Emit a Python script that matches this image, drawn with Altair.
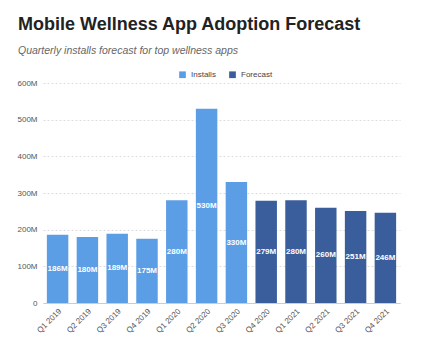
import altair as alt
import pandas as pd

quarters = ["Q1 2019", "Q2 2019", "Q3 2019", "Q4 2019", "Q1 2020", "Q2 2020",
            "Q3 2020", "Q4 2020", "Q1 2021", "Q2 2021", "Q3 2021", "Q4 2021"]
values = [186, 180, 189, 175, 280, 530, 330, 279, 280, 260, 251, 246]
series = ["Installs"] * 7 + ["Forecast"] * 5

df = pd.DataFrame({"quarter": quarters, "value": values, "series": series})
df["label"] = df["value"].astype(str) + "M"
df["mid"] = df["value"] / 2

FONT = "Liberation Sans"

x_axis = alt.Axis(labelAngle=-45, labelFontSize=8, labelColor="#555555",
                  domainColor="#cccccc", ticks=False, labelPadding=4,
                  labelFont=FONT)
x_scale = alt.Scale(paddingInner=0.28, paddingOuter=0.13)
y_axis = alt.Axis(values=[0, 100, 200, 300, 400, 500, 600],
                  labelExpr="datum.value == 0 ? '0' : datum.value + 'M'",
                  labelFontSize=8, labelColor="#555555", labelFont=FONT,
                  labelOverlap=False, tickCount=7,
                  domain=False, ticks=False, labelPadding=6,
                  gridColor="#dddddd", gridDash=[2, 2])
y_scale = alt.Scale(domain=[0, 600])

bars = alt.Chart(df).mark_bar().encode(
    x=alt.X("quarter:N", sort=quarters, title=None, scale=x_scale, axis=x_axis),
    y=alt.Y("value:Q", title=None, scale=y_scale, axis=y_axis),
    color=alt.Color("series:N",
                    scale=alt.Scale(domain=["Installs", "Forecast"],
                                    range=["#5b9ee6", "#3a5e9c"]),
                    legend=alt.Legend(title=None, orient="none", direction="horizontal",
                                      legendX=135, legendY=-13, symbolType="square",
                                      symbolSize=45, labelFontSize=8, labelFont=FONT,
                                      labelColor="#444444", columnPadding=12)),
)

text = alt.Chart(df).mark_text(color="white", fontWeight="bold", fontSize=8,
                               font=FONT).encode(
    x=alt.X("quarter:N", sort=quarters, title=None, scale=x_scale, axis=x_axis),
    y=alt.Y("mid:Q", title=None, scale=y_scale, axis=y_axis),
    text="label:N",
)

chart = (bars + text).properties(
    width=357, height=220,
    padding={"left": 43, "top": 83, "right": 26, "bottom": 36},
    autosize=alt.AutoSizeParams(type="none"),
    title=alt.TitleParams(
        "Mobile Wellness App Adoption Forecast",
        subtitle="Quarterly installs forecast for top wellness apps",
        anchor="start", frame="group", dx=-25, font=FONT, fontSize=18,
        fontWeight="bold", color="#222222", subtitleFont=FONT,
        subtitleFontSize=10.5, subtitleFontStyle="italic",
        subtitleColor="#666666", subtitlePadding=12, offset=14,
    ),
).configure_view(stroke=None)

chart.save("out.html", embed_options={"renderer": "svg", "actions": False})
